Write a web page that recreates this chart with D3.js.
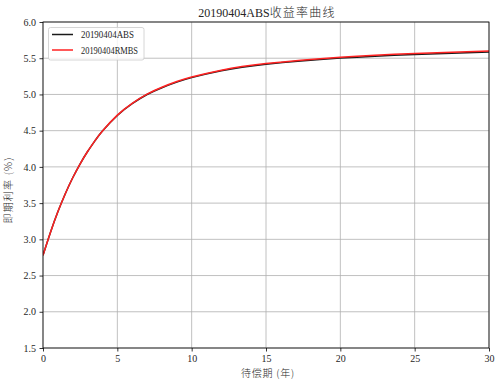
<!DOCTYPE html>
<html><head><meta charset="utf-8">
<script src="https://cdn.jsdelivr.net/npm/d3@7"></script>
<style>
body{margin:0;background:#fff;}
svg{display:block;}
</style></head>
<body><svg id="c" width="501" height="386"></svg>
<script>
const titleLatin = "20190404ABS";
const titleCjk = "收益率曲线";
const xLabel = "待偿期 (年)";
const yLabel = "即期利率 (%)";
const seriesNames = ["20190404ABS", "20190404RMBS"];
const seriesColors = ["#1a1a1a", "#ff2222"];
const terms     = [0,    0.5,   1,    1.5,  2,    2.5,   3,     3.5,   4,     5,     6,     7,     8,     9,     10,    12,    15,    20,    25,    30];
const absRates  = [2.78, 3.095, 3.38, 3.63, 3.85, 4.043, 4.212, 4.362, 4.495, 4.71,  4.873, 4.999, 5.093, 5.170, 5.232, 5.326, 5.416, 5.502, 5.553, 5.587];
const rmbsRates = [2.78, 3.095, 3.38, 3.63, 3.85, 4.043, 4.212, 4.362, 4.495, 4.714, 4.878, 5.005, 5.100, 5.178, 5.240, 5.335, 5.426, 5.514, 5.566, 5.600];
const xTicks = [0,5,10,15,20,25,30];
const yTicks = [1.5,2.0,2.5,3.0,3.5,4.0,4.5,5.0,5.5,6.0];

const SERIF = "'Liberation Serif','Noto Sans CJK SC',serif";
const CJK = "'Noto Sans CJK SC','Liberation Serif',sans-serif";
const TXT = "#262626";

const svg = d3.select("#c");
const m = {l:43, r:489, t:22, b:348};
const x = d3.scaleLinear().domain([0,30]).range([m.l,m.r]);
const y = d3.scaleLinear().domain([1.5,6.0]).range([m.b,m.t]);

// grid
const g = svg.append("g");
g.selectAll(".gx").data(xTicks).join("line")
  .attr("x1",d=>x(d)).attr("x2",d=>x(d)).attr("y1",m.t).attr("y2",m.b)
  .attr("stroke","#b0b0b0").attr("stroke-width",0.8);
g.selectAll(".gy").data(yTicks).join("line")
  .attr("x1",m.l).attr("x2",m.r).attr("y1",d=>y(d)).attr("y2",d=>y(d))
  .attr("stroke","#b0b0b0").attr("stroke-width",0.8);

// lines
const series = [absRates, rmbsRates];
const line = d3.line().x((d,i)=>x(terms[i])).y(d=>y(d)).curve(d3.curveNatural);
svg.append("defs").append("clipPath").attr("id","clip").append("rect")
  .attr("x",m.l).attr("y",m.t).attr("width",m.r-m.l).attr("height",m.b-m.t);
series.forEach((s,k)=>{
  svg.append("path").datum(s).attr("d",line).attr("fill","none").attr("clip-path","url(#clip)")
    .attr("stroke",seriesColors[k]).attr("stroke-width",1.5);
});

// axes
const xa = svg.append("g").attr("transform",`translate(0,${m.b})`)
  .call(d3.axisBottom(x).tickValues(xTicks).tickFormat(d3.format("d")).tickSize(3.5).tickPadding(3.5));
const ya = svg.append("g").attr("transform",`translate(${m.l},0)`)
  .call(d3.axisLeft(y).tickValues(yTicks).tickFormat(d3.format(".1f")).tickSize(3.5).tickPadding(3.5));
[xa,ya].forEach(a=>{
  a.attr("font-family",SERIF).attr("font-size",10);
  a.select(".domain").remove();
  a.selectAll(".tick line").attr("stroke","#000").attr("stroke-width",0.8);
  a.selectAll(".tick text").attr("fill",TXT);
});
// frame
svg.append("rect").attr("x",m.l).attr("y",m.t).attr("width",m.r-m.l).attr("height",m.b-m.t)
  .attr("fill","none").attr("stroke","#000").attr("stroke-width",0.8);

// title
const tt = svg.append("text").attr("x",267).attr("y",17).attr("text-anchor","middle")
  .attr("fill",TXT).attr("font-family",SERIF).attr("font-size",12);
tt.append("tspan").text(titleLatin);
tt.append("tspan").attr("font-family",CJK).attr("font-weight",300).attr("letter-spacing",1.2).text(titleCjk);
// x label
svg.append("text").attr("x",268).attr("y",377).attr("text-anchor","middle")
  .attr("fill",TXT).attr("font-family",CJK).attr("font-weight",300)
  .attr("font-size",10).attr("letter-spacing",0.8).text(xLabel);
// y label
svg.append("text").attr("transform",`translate(12,${190}) rotate(-90)`)
  .attr("text-anchor","middle").attr("fill",TXT).attr("font-family",CJK).attr("font-weight",300)
  .attr("font-size",10).attr("letter-spacing",1.2).text(yLabel);

// legend
const lg = svg.append("g");
lg.append("rect").attr("x",48.5).attr("y",27.5).attr("width",95.5).attr("height",32.5).attr("rx",2)
  .attr("fill","#fff").attr("fill-opacity",0.8).attr("stroke","#ccc").attr("stroke-width",0.8);
const legendWidths = [53, 57];
seriesNames.forEach((n,i)=>{
  const yy = 34.5 + i*15.5;
  lg.append("line").attr("x1",52).attr("x2",73).attr("y1",yy).attr("y2",yy)
    .attr("stroke",seriesColors[i]).attr("stroke-width",1.5);
  lg.append("text").attr("x",81).attr("y",yy+3.5).attr("font-size",10)
    .attr("font-family",SERIF).attr("fill",TXT)
    .attr("textLength",legendWidths[i]).attr("lengthAdjust","spacingAndGlyphs").text(n);
});
</script></body></html>
